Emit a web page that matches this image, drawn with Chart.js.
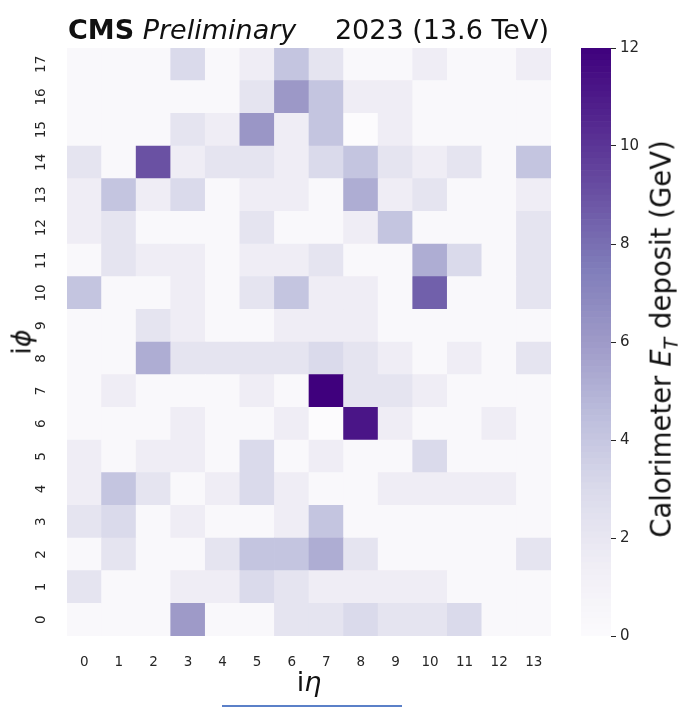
<!DOCTYPE html>
<html><head><meta charset="utf-8">
<script src="https://cdn.jsdelivr.net/npm/chart.js@4.4.0/dist/chart.umd.min.js"></script>
<style>
html,body{margin:0;padding:0;background:#fff;}
#wrap{position:relative;width:684px;height:707px;overflow:hidden;font-family:"DejaVu Sans",sans-serif;color:#111;}
canvas{position:absolute;top:0;}
.t{position:absolute;white-space:nowrap;line-height:1;}
.rot{position:absolute;white-space:nowrap;line-height:1;transform:translate(-50%,-50%) rotate(-90deg);}
</style></head><body>
<div id="wrap">
<canvas id="main" style="left:0;width:684px;height:707px"></canvas>
<canvas id="cbar" style="left:560px;width:124px;height:707px"></canvas>
<div class="t" style="left:68px;top:16px;font-size:27px"><b>CMS</b> <i>Preliminary</i></div>
<div class="t" style="right:135px;top:16px;font-size:27px">2023 (13.6 TeV)</div>
<div class="t" style="left:309px;top:668px;font-size:27px;transform:translateX(-50%)">i<i>η</i></div>
<div class="rot" style="left:21px;top:342px;font-size:27px">i<i>ϕ</i></div>
<div class="rot" style="left:664px;top:339px;font-size:27.5px">Calorimeter <i>E</i><sub style="font-size:0.7em;font-style:italic">T</sub> deposit (GeV)</div>
<div style="position:absolute;left:222px;top:705px;width:180px;height:2px;background:#5b80c8"></div>
</div>
<script>
// ---- data ----
const etaLabels = ['0','1','2','3','4','5','6','7','8','9','10','11','12','13'];
const phiLabels = ['0','1','2','3','4','5','6','7','8','9','10','11','12','13','14','15','16','17'];
const cbarTicks = [0, 2, 4, 6, 8, 10, 12];
const cbarMin = 0, cbarMax = 12;
// ET deposit (GeV) per iphi row, indexed by ieta 0..13
const phi0  = [0.3,0.3,0.3,6.0,0.3,0.3,2.2,2.2,3.0,2.2,2.2,3.0,0.3,0.3];
const phi1  = [2.2,0.3,0.3,1.5,1.5,3.0,2.2,1.5,1.5,1.5,1.5,0.3,0.3,0.3];
const phi2  = [0.3,2.2,0.3,0.3,2.2,4.1,4.1,5.2,2.2,0.3,0.3,0.3,0.3,2.2];
const phi3  = [2.2,3.0,0.3,1.5,0.3,0.3,1.5,4.1,0.3,0.3,0.3,0.3,0.3,0.3];
const phi4  = [1.5,4.1,2.2,0.3,1.5,3.0,1.5,0.3,0.3,1.5,1.5,1.5,1.5,0.3];
const phi5  = [1.5,0.3,1.5,1.5,0.3,3.0,0.3,1.5,0.3,0.3,3.0,0.3,0.3,0.3];
const phi6  = [0.3,0.3,0.3,1.5,0.3,0.3,1.5,0.0,11.2,1.5,0.3,0.3,1.5,0.3];
const phi7  = [0.3,1.5,0.3,0.3,0.3,1.5,0.3,12.0,2.2,2.2,1.5,0.3,0.3,0.3];
const phi8  = [0.3,0.3,5.2,2.2,2.2,2.2,2.2,3.0,2.2,1.5,0.3,1.5,0.3,2.2];
const phi9  = [0.3,0.3,2.2,1.5,0.3,0.3,1.5,1.5,1.5,0.3,0.3,0.3,0.3,0.3];
const phi10 = [4.1,0.3,0.3,1.5,0.3,2.2,4.1,1.5,1.5,0.3,8.5,0.3,0.3,2.2];
const phi11 = [0.3,2.2,1.5,1.5,0.3,1.5,1.5,2.2,0.3,0.3,5.2,3.0,0.3,2.2];
const phi12 = [1.5,2.2,0.3,0.3,0.3,2.2,0.3,0.3,1.5,4.1,0.3,0.3,0.3,2.2];
const phi13 = [1.5,4.1,1.5,3.0,0.3,1.5,1.5,0.3,5.2,1.5,2.2,0.3,0.3,1.5];
const phi14 = [2.2,0.3,9.0,1.5,2.2,2.2,1.5,3.0,4.1,2.2,1.5,2.2,0.3,4.1];
const phi15 = [0.3,0.3,0.3,2.2,1.5,6.2,1.5,4.1,0.0,1.5,0.3,0.3,0.3,0.3];
const phi16 = [0.3,0.3,0.3,0.3,0.3,2.2,6.1,4.1,1.5,1.5,0.3,0.3,0.3,0.3];
const phi17 = [0.3,0.3,0.3,3.0,0.3,1.5,4.1,2.2,0.3,0.3,1.5,0.3,0.3,1.5];
const rows = [phi0,phi1,phi2,phi3,phi4,phi5,phi6,phi7,phi8,phi9,phi10,phi11,phi12,phi13,phi14,phi15,phi16,phi17];

// ---- Purples colormap ----
const purplesStops = [[252,251,253],[239,237,245],[218,218,235],[188,189,220],[158,154,200],[128,125,186],[106,81,163],[84,39,143],[63,0,125]];
function purples(t){
  t = Math.max(0, Math.min(1, t));
  const p = t*(purplesStops.length-1);
  const i = Math.min(Math.floor(p), purplesStops.length-2);
  const f = p - i, a = purplesStops[i], b = purplesStops[i+1];
  return 'rgb('+a.map((c,k)=>Math.round(c+(b[k]-c)*f)).join(',')+')';
}
const norm = v => (v - cbarMin)/(cbarMax - cbarMin);

Chart.defaults.font.family = '"DejaVu Sans", sans-serif';
Chart.defaults.color = '#262626';

const yLabelPlugin = {
  id: 'ylabels',
  afterDraw(chart){
    const ctx = chart.ctx, ys = chart.scales.y;
    ctx.save();
    ctx.font = '13.5px "DejaVu Sans"';
    ctx.fillStyle = '#262626';
    ctx.textAlign = 'center';
    ctx.textBaseline = 'middle';
    const x = chart.chartArea.left - 26;
    phiLabels.forEach((lab, i) => {
      const y = ys.getPixelForValue(i + 0.5);
      ctx.save(); ctx.translate(x, y); ctx.rotate(-Math.PI/2); ctx.fillText(lab, 0, 0); ctx.restore();
    });
    ctx.restore();
  }
};

new Chart(document.getElementById('main'), {
  type: 'bar',
  data: {
    labels: etaLabels,
    datasets: rows.map((vals, r) => ({
      label: 'iphi ' + phiLabels[r],
      data: vals.map(() => [r, r + 1]),
      backgroundColor: vals.map(v => purples(norm(v))),
      borderWidth: 0,
      grouped: false,
      categoryPercentage: 1,
      barPercentage: 1
    }))
  },
  options: {
    responsive: false, animation: false, events: [],
    layout: { padding: { left: 0, right: 133, top: 48, bottom: 0 } },
    plugins: { legend: { display: false }, tooltip: { enabled: false } },
    scales: {
      x: {
        type: 'category',
        grid: { display: false }, border: { display: false },
        ticks: { font: { size: 13.5 }, color: '#262626', padding: 10, maxRotation: 0, autoSkip: false },
        afterFit: s => { s.height = 71; }
      },
      y: {
        type: 'linear', min: 0, max: phiLabels.length,
        grid: { display: false }, border: { display: false },
        ticks: { display: false },
        afterFit: s => { s.width = 67; }
      }
    }
  },
  plugins: [yLabelPlugin]
});

const cbarSteps = 96;
const cbarStep = (cbarMax - cbarMin) / cbarSteps;
new Chart(document.getElementById('cbar'), {
  type: 'bar',
  data: {
    labels: [''],
    datasets: Array.from({ length: cbarSteps }, (_, i) => ({
      data: [[cbarMin + i*cbarStep, cbarMin + (i+1)*cbarStep]],
      backgroundColor: purples((i + 0.5)/cbarSteps),
      borderWidth: 0, grouped: false, categoryPercentage: 1, barPercentage: 1
    }))
  },
  options: {
    responsive: false, animation: false, events: [],
    layout: { padding: { left: 21, right: 0, top: 48, bottom: 71 } },
    plugins: { legend: { display: false }, tooltip: { enabled: false } },
    scales: {
      x: { display: false },
      y: {
        position: 'right', min: cbarMin, max: cbarMax,
        afterBuildTicks: s => { s.ticks = cbarTicks.map(v => ({ value: v })); },
        ticks: { font: { size: 15 }, color: '#262626', padding: 4 },
        grid: { display: true, drawOnChartArea: false, drawTicks: true, tickLength: 5, color: '#262626' },
        border: { display: false },
        afterFit: s => { s.width = 73; }
      }
    }
  }
});
</script>
</body></html>
